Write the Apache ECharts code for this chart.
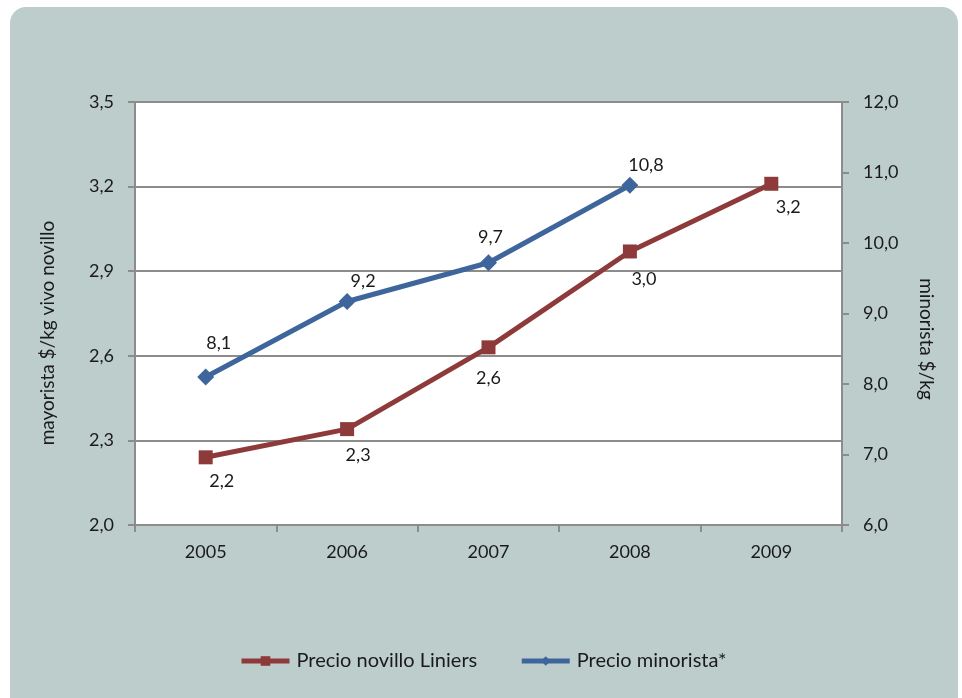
<!DOCTYPE html>
<html>
<head>
<meta charset="utf-8">
<script src="https://cdn.jsdelivr.net/npm/echarts@6/dist/echarts.min.js"></script>
<style>
  html, body { margin: 0; padding: 0; background: #ffffff; }
  #bg { position: absolute; left: 10px; top: 7px; width: 948px; height: 720px; border-radius: 16px; background: #bccdcc; }
  #chart { position: absolute; left: 0; top: 0; width: 962px; height: 698px; }
</style>
</head>
<body>
<div id="bg"></div>
<div id="chart"></div>
<script>
const years = ['2005', '2006', '2007', '2008', '2009'];
const precioNovillo = [2.24, 2.34, 2.63, 2.97, 3.21];
const precioMinorista = [8.10, 9.17, 9.72, 10.82, null];
const leftTicks = { min: 2.0, max: 3.5, interval: 0.3 };
const rightTicks = { min: 6.0, max: 12.0, interval: 1.0 };

const fmt = v => v.toFixed(1).replace('.', ',');
const FONT = 'Lato, "Open Sans", sans-serif';
const FS = 18;
const redOffsets = [[16, 24], [11, 26], [0, 31], [14, 28], [17, 23]];
const blueOffsets = [[13, -34], [16, -20], [2, -26], [16, -20], [0, 0]];

const chart = echarts.init(document.getElementById('chart'));
chart.setOption({
  animation: false,
  backgroundColor: 'transparent',
  textStyle: { fontFamily: FONT, color: '#1a1a1a' },
  grid: { left: 135, right: 120, top: 102, bottom: 173, show: true, backgroundColor: '#ffffff', borderWidth: 0 },
  legend: {
    top: 646,
    left: 234,
    itemWidth: 48,
    itemHeight: 12,
    itemGap: 42,
    lineStyle: { width: 5 },
    textStyle: { fontFamily: FONT, fontSize: 20, color: '#1a1a1a', padding: [0, 0, 0, 2] },
    data: ['Precio novillo Liniers', 'Precio minorista*']
  },
  xAxis: {
    type: 'category',
    data: years,
    boundaryGap: true,
    axisLine: { lineStyle: { color: '#8c8c8c', width: 2 } },
    axisTick: { show: true, length: 7, lineStyle: { color: '#8c8c8c', width: 2 } },
    axisLabel: { fontSize: FS, color: '#1a1a1a', margin: 18, fontFamily: FONT }
  },
  yAxis: [
    {
      type: 'value',
      min: leftTicks.min, max: leftTicks.max, interval: leftTicks.interval,
      axisLine: { show: true, lineStyle: { color: '#8c8c8c', width: 2 } },
      axisTick: { show: true, length: 7, lineStyle: { color: '#8c8c8c', width: 2 } },
      axisLabel: { fontSize: FS, color: '#1a1a1a', margin: 21, formatter: fmt, fontFamily: FONT },
      splitLine: { show: true, lineStyle: { color: '#8c8c8c', width: 2 } }
    },
    {
      type: 'value',
      position: 'right',
      min: rightTicks.min, max: rightTicks.max, interval: rightTicks.interval,
      axisLine: { show: true, lineStyle: { color: '#8c8c8c', width: 2 } },
      axisTick: { show: true, length: 7, lineStyle: { color: '#8c8c8c', width: 2 } },
      axisLabel: { fontSize: FS, color: '#1a1a1a', margin: 21, formatter: fmt, fontFamily: FONT },
      splitLine: { show: false }
    }
  ],
  graphic: [
    { type: 'text', x: 48, y: 333, rotation: Math.PI / 2,
      style: { text: 'mayorista $/kg vivo novillo', fontSize: 19, fontFamily: FONT, fill: '#1a1a1a', align: 'center', verticalAlign: 'middle' } },
    { type: 'text', x: 926, y: 339, rotation: -Math.PI / 2,
      style: { text: 'minorista $/kg', fontSize: 19, fontFamily: FONT, fill: '#1a1a1a', align: 'center', verticalAlign: 'middle' } }
  ],
  series: [
    {
      name: 'Precio novillo Liniers',
      type: 'line',
      yAxisIndex: 0,
      data: precioNovillo.map((v, i) => ({ value: v, label: { offset: redOffsets[i] } })),
      symbol: 'rect',
      symbolSize: 14,
      itemStyle: { color: '#8e3a3b' },
      lineStyle: { color: '#8e3a3b', width: 5 },
      label: { show: true, position: 'inside', formatter: p => fmt(p.value), fontSize: FS, color: '#1a1a1a', fontFamily: FONT }
    },
    {
      name: 'Precio minorista*',
      type: 'line',
      yAxisIndex: 1,
      data: precioMinorista.map((v, i) => ({ value: v, label: { offset: blueOffsets[i] } })),
      symbol: 'diamond',
      symbolSize: 17,
      itemStyle: { color: '#3e669c' },
      lineStyle: { color: '#3e669c', width: 5 },
      label: { show: true, position: 'inside', formatter: p => p.value == null ? '' : fmt(p.value), fontSize: FS, color: '#1a1a1a', fontFamily: FONT }
    }
  ]
});
</script>
</body>
</html>
